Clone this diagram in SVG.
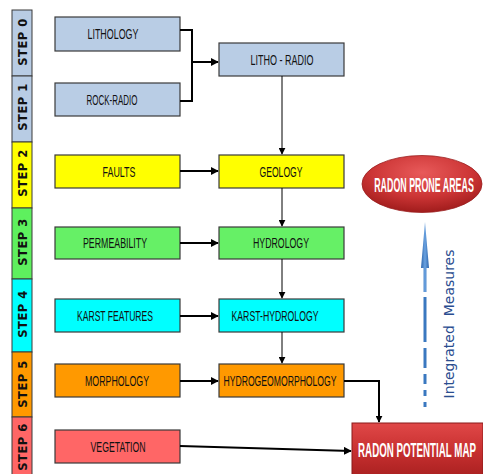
<svg xmlns="http://www.w3.org/2000/svg" width="483" height="474" viewBox="0 0 483 474">
<defs>
<style>
.step{stroke:#3a3a3a;stroke-width:1}
.st{font-family:"DejaVu Sans",Verdana,sans-serif;font-size:11.5px;font-weight:bold;fill:#111;text-anchor:middle;letter-spacing:0.5px}
.box{stroke:#3a3a3a;stroke-width:1.2}
.bt{font-family:"Liberation Sans",Arial,sans-serif;font-size:14.5px;fill:#111;text-anchor:middle}
.thick{fill:none;stroke:#000;stroke-width:2}
.thin{fill:none;stroke:#000;stroke-width:1}
.wt{font-family:"Liberation Sans",Arial,sans-serif;font-weight:bold;font-size:19.5px;fill:#fff;text-anchor:middle}
</style>
<marker id="ah" viewBox="0 0 10 10" refX="9" refY="5" markerWidth="8" markerHeight="8" markerUnits="userSpaceOnUse" orient="auto">
<path d="M0,0 L10,5 L0,10 z" fill="#000"/>
</marker>
<marker id="ahs" viewBox="0 0 10 10" refX="9" refY="5" markerWidth="7" markerHeight="7" markerUnits="userSpaceOnUse" orient="auto">
<path d="M0,0 L10,5 L0,10 z" fill="#000"/>
</marker>
<linearGradient id="redbox" x1="0" y1="0" x2="0" y2="1">
<stop offset="0" stop-color="#e04848"/>
<stop offset="0.5" stop-color="#c83030"/>
<stop offset="1" stop-color="#a82020"/>
</linearGradient>
<radialGradient id="redell" cx="0.5" cy="0.3" r="0.7">
<stop offset="0" stop-color="#e85a5a"/>
<stop offset="0.6" stop-color="#cc3535"/>
<stop offset="1" stop-color="#a01c1c"/>
</radialGradient>
<linearGradient id="blue" x1="0" y1="0" x2="1" y2="0">
<stop offset="0" stop-color="#2e66ad"/>
<stop offset="0.5" stop-color="#6aa2e0"/>
<stop offset="1" stop-color="#2e66ad"/>
</linearGradient>
</defs>

<g id="steps">
<g id="step0"><rect class="step" x="12" y="10" width="20" height="66" fill="#b8cce4"/><text class="st" transform="translate(26.5,42) rotate(-90)">STEP 0</text></g>
<g id="step1"><rect class="step" x="12" y="76" width="20" height="66" fill="#b8cce4"/><text class="st" transform="translate(26.5,107) rotate(-90)">STEP 1</text></g>
<g id="step2"><rect class="step" x="12" y="142" width="20" height="66" fill="#ffff00"/><text class="st" transform="translate(26.5,173) rotate(-90)">STEP 2</text></g>
<g id="step3"><rect class="step" x="12" y="208" width="20" height="71" fill="#5ef05e"/><text class="st" transform="translate(26.5,242) rotate(-90)">STEP 3</text></g>
<g id="step4"><rect class="step" x="12" y="279" width="20" height="73" fill="#00ffff"/><text class="st" transform="translate(26.5,314) rotate(-90)">STEP 4</text></g>
<g id="step5"><rect class="step" x="12" y="352" width="20" height="65" fill="#ff9900"/><text class="st" transform="translate(26.5,384) rotate(-90)">STEP 5</text></g>
<g id="step6"><rect class="step" x="12" y="417" width="20" height="62" fill="#ff6666"/><text class="st" transform="translate(26.5,447) rotate(-90)">STEP 6</text></g>
</g>

<g id="lithology"><rect class="box" x="55" y="17" width="125" height="34" fill="#b9cde5"/><text class="bt" x="113" y="39" textLength="51" lengthAdjust="spacingAndGlyphs">LITHOLOGY</text></g>
<g id="rockradio"><rect class="box" x="55" y="83" width="125" height="33" fill="#b9cde5"/><text class="bt" x="112" y="105" textLength="51" lengthAdjust="spacingAndGlyphs">ROCK-RADIO</text></g>
<g id="lithoradio"><rect class="box" x="219" y="43" width="125" height="33" fill="#b9cde5"/><text class="bt" x="282" y="65" textLength="63" lengthAdjust="spacingAndGlyphs">LITHO - RADIO</text></g>
<g id="faults"><rect class="box" x="55" y="155" width="125" height="33" fill="#ffff00"/><text class="bt" x="119" y="177" textLength="33" lengthAdjust="spacingAndGlyphs">FAULTS</text></g>
<g id="geology"><rect class="box" x="219" y="155" width="125" height="33" fill="#ffff00"/><text class="bt" x="281" y="177" textLength="43" lengthAdjust="spacingAndGlyphs">GEOLOGY</text></g>
<g id="permeability"><rect class="box" x="55" y="227" width="125" height="32" fill="#66f066"/><text class="bt" x="115" y="248" textLength="64" lengthAdjust="spacingAndGlyphs">PERMEABILITY</text></g>
<g id="hydrology"><rect class="box" x="219" y="227" width="125" height="32" fill="#66f066"/><text class="bt" x="281" y="248" textLength="56" lengthAdjust="spacingAndGlyphs">HYDROLOGY</text></g>
<g id="karstfeatures"><rect class="box" x="55" y="299" width="125" height="33" fill="#00ffff"/><text class="bt" x="115" y="321" textLength="76" lengthAdjust="spacingAndGlyphs">KARST FEATURES</text></g>
<g id="karsthydrology"><rect class="box" x="219" y="299" width="125" height="33" fill="#00ffff"/><text class="bt" x="275" y="321" textLength="87" lengthAdjust="spacingAndGlyphs">KARST-HYDROLOGY</text></g>
<g id="morphology"><rect class="box" x="55" y="364" width="125" height="33" fill="#ff9900"/><text class="bt" x="117" y="386" textLength="64" lengthAdjust="spacingAndGlyphs">MORPHOLOGY</text></g>
<g id="hydrogeomorphology"><rect class="box" x="219" y="364" width="125" height="33" fill="#ff9900"/><text class="bt" x="280" y="386" textLength="113" lengthAdjust="spacingAndGlyphs">HYDROGEOMORPHOLOGY</text></g>
<g id="vegetation"><rect class="box" x="55" y="430" width="125" height="33" fill="#ff6666"/><text class="bt" x="118" y="452" textLength="55" lengthAdjust="spacingAndGlyphs">VEGETATION</text></g>

<g id="radonmap"><rect x="352" y="423" width="131" height="55" fill="url(#redbox)" stroke="#8a1a1a" stroke-width="1"/><text class="wt" transform="translate(417,457) scale(0.5,1)">RADON POTENTIAL MAP</text></g>
<g id="radonprone"><ellipse cx="422" cy="184" rx="60" ry="28.5" fill="url(#redell)" stroke="#9a2020" stroke-width="0.8"/><text class="wt" transform="translate(424,192) scale(0.455,1)">RADON PRONE AREAS</text></g>

<g id="connectors">
<path class="thick" d="M180,30 H192 V101 H180"/>
<path class="thick" d="M192,62 H218" marker-end="url(#ah)"/>
<path class="thin" d="M282,76 V154" marker-end="url(#ahs)"/>
<path class="thick" d="M180,171 H218" marker-end="url(#ah)"/>
<path class="thin" d="M282,188 V226" marker-end="url(#ahs)"/>
<path class="thick" d="M180,243 H218" marker-end="url(#ah)"/>
<path class="thin" d="M282,259 V298" marker-end="url(#ahs)"/>
<path class="thick" d="M180,316 H218" marker-end="url(#ah)"/>
<path class="thin" d="M282,332 V363" marker-end="url(#ahs)"/>
<path class="thick" d="M180,381 H218" marker-end="url(#ah)"/>
<path class="thick" d="M344,381 H379 V422" marker-end="url(#ahs)"/>
<path class="thick" d="M180,446 L351,451" marker-end="url(#ah)"/>
</g>

<g id="integrated">
<path d="M425,222 L429,268 L426.5,268 L426.5,292 L423.5,292 L423.5,268 L421,268 z" fill="url(#blue)"/>
<path d="M425,297 V342 M425,348 V368 M425,374 V384 M425,390 V396 M425,402 V407" stroke="#3a78c0" stroke-width="3" fill="none"/>
<text transform="translate(454,324) rotate(-90)" font-family="DejaVu Sans,Verdana,sans-serif" font-size="14" fill="#2a4d8f" text-anchor="middle" xml:space="preserve">Integrated  Measures</text>
</g>
</svg>
